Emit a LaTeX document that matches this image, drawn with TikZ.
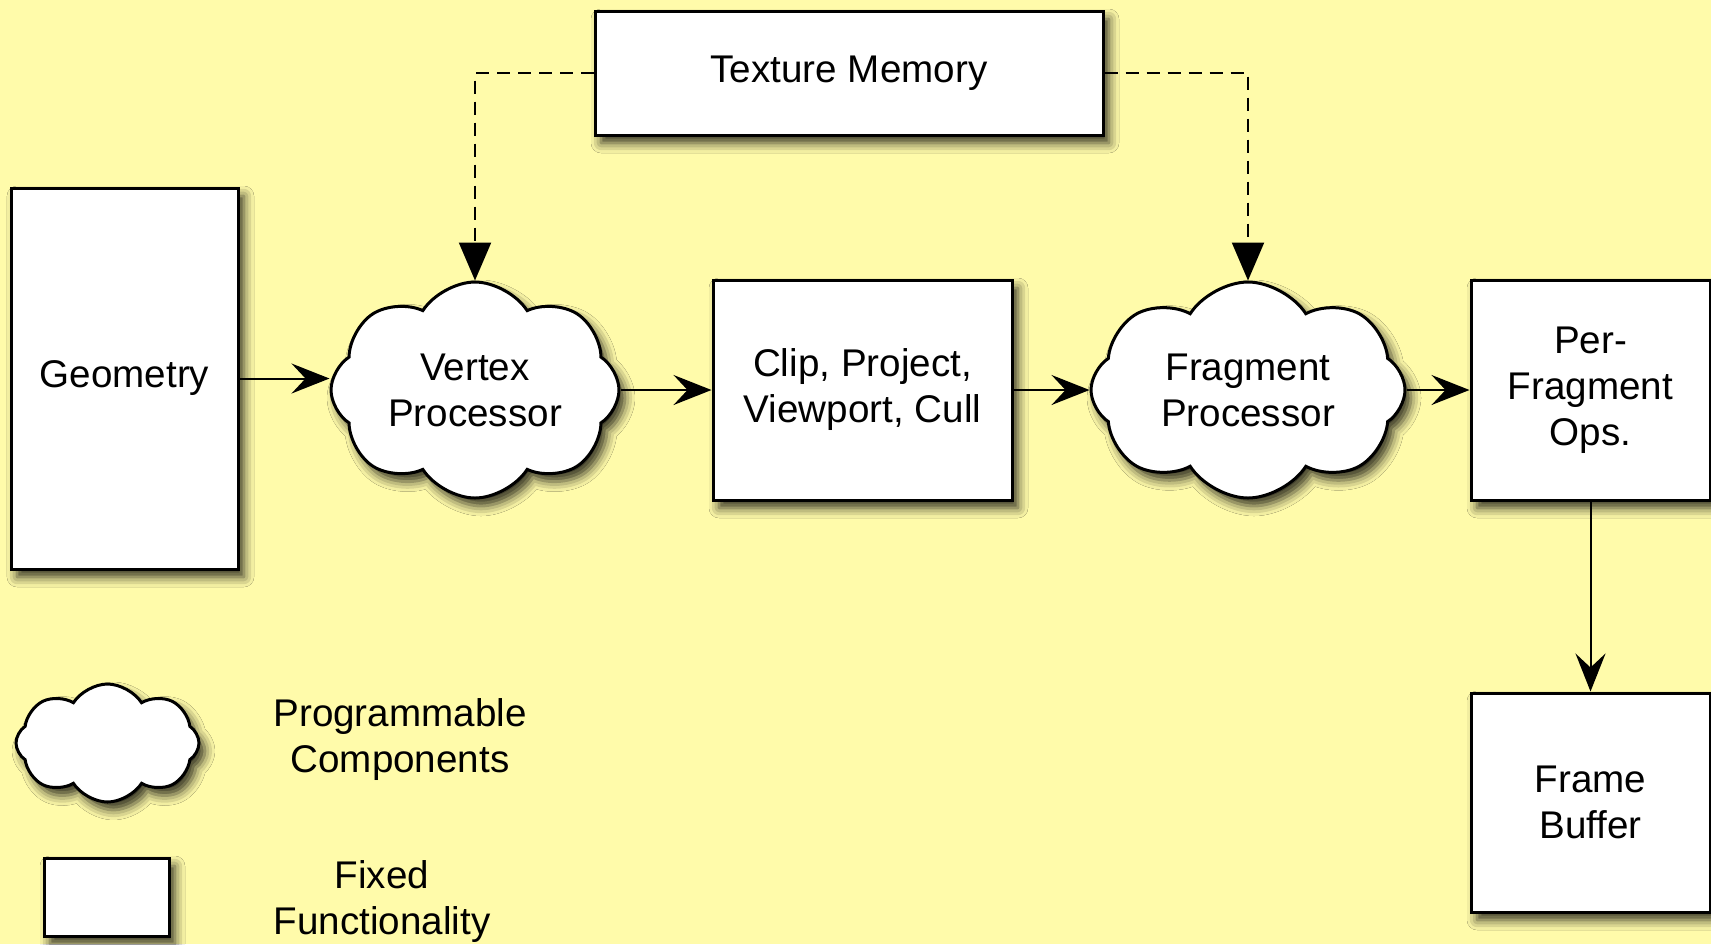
\documentclass[tikz,border=0pt]{standalone}
\usepackage{fontspec}
\setmainfont{Liberation Sans}
\usetikzlibrary{shapes.symbols,shadows.blur,arrows.meta}
\definecolor{bg}{RGB}{255,251,170}
\tikzset{
  txt/.style={align=center, font=\fontsize{19.3}{23}\selectfont, text=black},
  shad/.style={blur shadow={shadow xshift=3pt, shadow yshift=-4pt, shadow blur radius=5pt, shadow opacity=80}},
  box/.style={txt, shad, rectangle, draw=black, line width=1.5pt, fill=white, inner sep=0pt},
  puff/.style={txt, shad, cloud, cloud puffs=8, cloud puff arc=115, cloud ignores aspect, draw=black, line width=1.5pt, fill=white, inner sep=0pt},
  flow/.style={-{Stealth[length=19pt,width=15pt,inset=7pt]}, line width=1pt},
  texflow/.style={-{Triangle[length=19pt,width=16pt]}, line width=1.1pt, dash pattern=on 6.5pt off 4pt}
}
\begin{document}
\begin{tikzpicture}[x=0.5pt,y=-0.5pt]
  \useasboundingbox (0,0) rectangle (1711,944);
  \fill[bg] (0,0) rectangle (1711,944);

  \node[box, minimum width=254pt, minimum height=62pt] (tm) at (849,73) {Texture Memory};
  \node[box, minimum width=113.5pt, minimum height=190.5pt] (geo) at (124.5,378.5) {Geometry};
  \node[puff, minimum width=144pt, minimum height=108pt] (vp) at (475,390) {Vertex\\Processor};
  \node[box, minimum width=149.5pt, minimum height=110pt] (clip) at (862.5,390) {Clip, Project,\\Viewport, Cull};
  \node[puff, minimum width=157pt, minimum height=108pt] (fp) at (1248,390) {Fragment\\Processor};
  \node[box, minimum width=119.5pt, minimum height=110pt] (pf) at (1590.5,390) {Per-\\Fragment\\Ops.};
  \node[box, minimum width=119.5pt, minimum height=109.5pt] (fb) at (1590.5,802.5) {Frame\\Buffer};

  \node[puff, minimum width=91.5pt, minimum height=59pt] (lcloud) at (107.5,743) {};
  \node[box, minimum width=62.5pt, minimum height=39pt] (lbox) at (106.5,897) {};
  \node[txt] (lprog) at (400,740) {Programmable\\Components};
  \node[txt] (lfix) at (382,901) {Fixed\\Functionality};

  \draw[flow] (geo.east) -- (geo.east -| vp.west);
  \draw[flow] (vp.east) -- (clip.west);
  \draw[flow] (clip.east) -- (fp.west);
  \draw[flow] (fp.east) -- (fp.east -| pf.west);
  \draw[flow] (pf.south) -- (fb.north);
  \draw[texflow] (tm.west) -| (vp.north);
  \draw[texflow] (tm.east) -| (fp.north);
\end{tikzpicture}
\end{document}
